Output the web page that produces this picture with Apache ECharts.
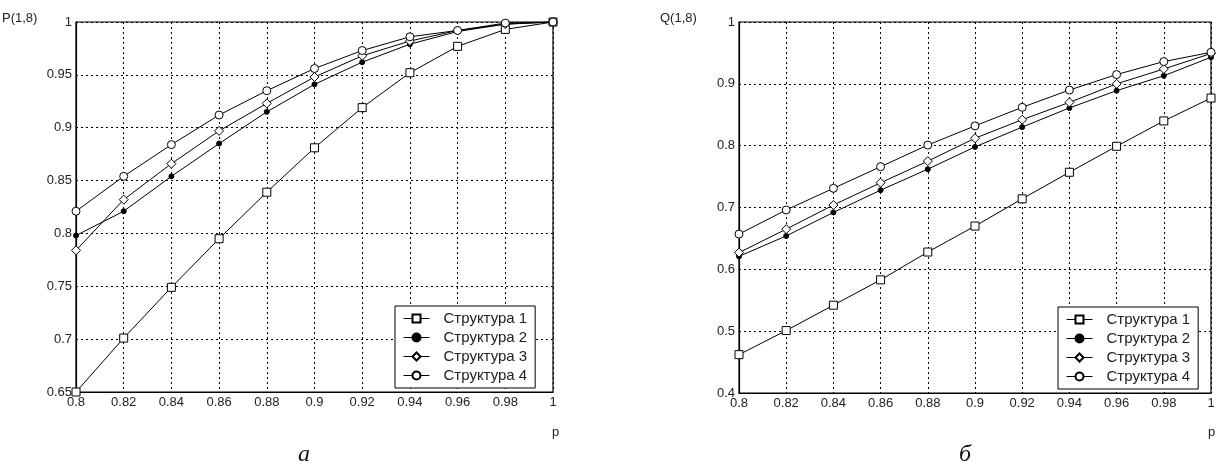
<!DOCTYPE html>
<html>
<head>
<meta charset="utf-8">
<script src="https://cdn.jsdelivr.net/npm/echarts@6/dist/echarts.min.js"></script>
<style>
html,body{margin:0;padding:0;background:#fff;}
#c{width:1223px;height:474px;}
</style>
</head>
<body>
<div id="c"></div>
<script>
// ---- data ----
const pValues = [0.8, 0.82, 0.84, 0.86, 0.88, 0.9, 0.92, 0.94, 0.96, 0.98, 1.0];
const seriesNames = ['Структура 1', 'Структура 2', 'Структура 3', 'Структура 4'];
// Chart a: P(1,8)
const P1 = [0.650, 0.701, 0.749, 0.795, 0.839, 0.881, 0.919, 0.952, 0.977, 0.993, 1.0];
const P2 = [0.798, 0.821, 0.854, 0.885, 0.915, 0.941, 0.962, 0.979, 0.991, 0.998, 1.0];
const P3 = [0.784, 0.832, 0.866, 0.897, 0.923, 0.948, 0.968, 0.982, 0.992, 0.998, 1.0];
const P4 = [0.821, 0.854, 0.884, 0.912, 0.935, 0.956, 0.973, 0.986, 0.992, 0.999, 1.0];
// Chart б: Q(1,8)
const Q1 = [0.462, 0.501, 0.542, 0.583, 0.628, 0.670, 0.714, 0.757, 0.799, 0.840, 0.877];
const Q2 = [0.621, 0.654, 0.692, 0.728, 0.762, 0.798, 0.830, 0.861, 0.889, 0.913, 0.943];
const Q3 = [0.627, 0.665, 0.704, 0.740, 0.775, 0.812, 0.842, 0.870, 0.900, 0.924, 0.949];
const Q4 = [0.657, 0.696, 0.731, 0.766, 0.801, 0.832, 0.862, 0.890, 0.915, 0.936, 0.951];
// axis ticks
const xTick = {min: 0.8, max: 1.0, interval: 0.02};
const yTickP = {min: 0.65, max: 1.0, interval: 0.05};
const yTickQ = {min: 0.4, max: 1.0, interval: 0.1};

const symbols = [
  {symbol: 'rect', size: 8, fill: '#fff'},
  {symbol: 'circle', size: 5, fill: '#000'},
  {symbol: 'diamond', size: 9, fill: '#fff'},
  {symbol: 'circle', size: 8, fill: '#fff'}
];

const FONT = 'Liberation Sans, Arial';

function fmt(v) {
  return String(parseFloat(v.toFixed(4)));
}

function xAxis(gi) {
  return {
    type: 'value', gridIndex: gi, min: xTick.min, max: xTick.max, interval: xTick.interval,
    axisLine: {show: true, lineStyle: {color: '#000', width: 1.2}},
    axisTick: {show: false},
    axisLabel: {color: '#222', fontSize: 13, fontFamily: FONT, margin: 4, formatter: fmt},
    splitLine: {show: true, lineStyle: {color: '#000', type: [2, 3], width: 1}}
  };
}
function yAxis(gi, t) {
  return {
    type: 'value', gridIndex: gi, min: t.min, max: t.max, interval: t.interval,
    axisLine: {show: true, lineStyle: {color: '#000', width: 1.2}},
    axisTick: {show: false},
    axisLabel: {color: '#222', fontSize: 13, fontFamily: FONT, margin: 4, formatter: fmt},
    splitLine: {show: true, lineStyle: {color: '#000', type: [2, 3], width: 1}}
  };
}

function mkSeries(arrs, gi) {
  return arrs.map((a, i) => ({
    name: seriesNames[i], type: 'line', xAxisIndex: gi, yAxisIndex: gi,
    data: pValues.map((p, k) => [p, a[k]]),
    symbol: symbols[i].symbol, symbolSize: symbols[i].size, showAllSymbol: true,
    lineStyle: {color: '#000', width: 1},
    itemStyle: {color: symbols[i].fill, borderColor: '#000', borderWidth: 1},
    animation: false, z: 3
  }));
}

function legend(left, top) {
  return {
    left: left, top: top, orient: 'vertical', itemGap: 4, itemWidth: 26, itemHeight: 10,
    data: seriesNames,
    backgroundColor: '#fff', borderColor: '#000', borderWidth: 1, padding: [5, 8, 5, 8],
    lineStyle: {width: 1},
    textStyle: {color: '#222', fontSize: 15, fontFamily: FONT, padding: [0, 0, 0, 9], lineHeight: 15},
    selectedMode: false
  };
}

const chart = echarts.init(document.getElementById('c'), null, {renderer: 'canvas'});
chart.setOption({
  backgroundColor: '#fff',
  animation: false,
  grid: [
    {left: 76, right: 670, top: 22, bottom: 82, show: true, borderColor: '#000', borderWidth: 1.2, backgroundColor: 'transparent'},
    {left: 739, right: 12, top: 22, bottom: 81, show: true, borderColor: '#000', borderWidth: 1.2, backgroundColor: 'transparent'}
  ],
  xAxis: [xAxis(0), xAxis(1)],
  yAxis: [yAxis(0, yTickP), yAxis(1, yTickQ)],
  legend: [legend(395, 306), legend(1058, 307)],
  series: mkSeries([P1, P2, P3, P4], 0).concat(mkSeries([Q1, Q2, Q3, Q4], 1)),
  graphic: [
    {type: 'text', left: 2, top: 12, style: {text: 'P(1,8)', fill: '#222', font: '13px ' + FONT}},
    {type: 'text', left: 660, top: 12, style: {text: 'Q(1,8)', fill: '#222', font: '13px ' + FONT}},
    {type: 'text', left: 552, top: 426, style: {text: 'p', fill: '#222', font: '13px ' + FONT}},
    {type: 'text', left: 1208, top: 426, style: {text: 'p', fill: '#222', font: '13px ' + FONT}},
    {type: 'text', left: 298, top: 443, style: {text: 'а', fill: '#111', font: 'italic 24px Liberation Serif, Times New Roman, serif'}},
    {type: 'text', left: 959, top: 443, style: {text: 'б', fill: '#111', font: 'italic 24px Liberation Serif, Times New Roman, serif'}}
  ]
});
</script>
</body>
</html>
